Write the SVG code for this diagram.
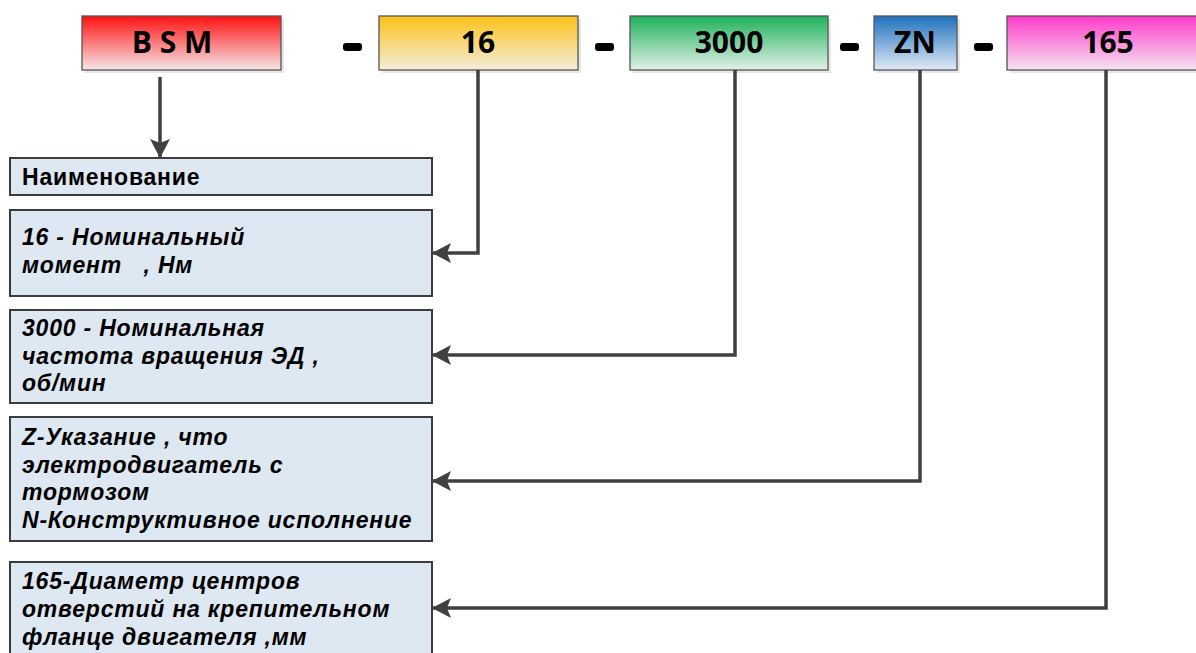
<svg xmlns="http://www.w3.org/2000/svg" width="1196" height="653" viewBox="0 0 1196 653">
<defs>
<linearGradient id="gRed" x1="0" y1="0" x2="0" y2="1"><stop offset="0" stop-color="#ff1010"/><stop offset="1" stop-color="#f5e8ea"/></linearGradient>
<linearGradient id="gYel" x1="0" y1="0" x2="0" y2="1"><stop offset="0" stop-color="#fcc218"/><stop offset="1" stop-color="#f3eddc"/></linearGradient>
<linearGradient id="gGrn" x1="0" y1="0" x2="0" y2="1"><stop offset="0" stop-color="#1cb15a"/><stop offset="1" stop-color="#e3f0e8"/></linearGradient>
<linearGradient id="gBlu" x1="0" y1="0" x2="0" y2="1"><stop offset="0" stop-color="#1d70bd"/><stop offset="1" stop-color="#e1eaf4"/></linearGradient>
<linearGradient id="gMag" x1="0" y1="0" x2="0" y2="1"><stop offset="0" stop-color="#ff3acb"/><stop offset="1" stop-color="#f4e4f0"/></linearGradient>
<marker id="arr" markerUnits="userSpaceOnUse" markerWidth="22" markerHeight="22" viewBox="0 0 22 22" refX="20" refY="11" orient="auto">
<path d="M20,11 L1,1 L5,11 L1,21 Z" fill="#404040"/>
</marker>
</defs>
<style>
.top{stroke:#555;stroke-width:1.3}
.shadow{fill:#e6e6e6}
.tt{font-family:"Open Sans","Liberation Sans",sans-serif;font-weight:bold;font-size:30px;fill:#000;text-anchor:middle}
.box{fill:#dee8f2;stroke:#3c3c3c;stroke-width:2}
.lt{font-family:"Liberation Sans",Arial,sans-serif;font-weight:bold;font-size:23px;letter-spacing:0.8px;fill:#000}
.it{font-style:italic}
.dash{fill:#000}
.con{fill:none;stroke:#404040;stroke-width:3.5;marker-end:url(#arr)}
</style>
<rect width="1196" height="653" fill="#fff"/>

<g id="node-bsm">
<rect class="shadow" x="85" y="19" width="199" height="54"/>
<rect class="top" x="82" y="16" width="199" height="54" fill="url(#gRed)"/>
<text class="tt" x="172" y="53">B S M</text>
</g>
<rect class="dash" x="343" y="43" width="19" height="8" rx="3"/>
<g id="node-16">
<rect class="shadow" x="382" y="19" width="199" height="54"/>
<rect class="top" x="379" y="16" width="199" height="54" fill="url(#gYel)"/>
<text class="tt" x="478" y="53">16</text>
</g>
<rect class="dash" x="595" y="43" width="19" height="8" rx="3"/>
<g id="node-3000">
<rect class="shadow" x="633" y="19" width="198" height="54"/>
<rect class="top" x="630" y="16" width="198" height="54" fill="url(#gGrn)"/>
<text class="tt" x="729" y="53">3000</text>
</g>
<rect class="dash" x="840" y="43" width="19" height="8" rx="3"/>
<g id="node-zn">
<rect class="shadow" x="877" y="19" width="83" height="54"/>
<rect class="top" x="874" y="16" width="83" height="54" fill="url(#gBlu)"/>
<text class="tt" x="915" y="53">ZN</text>
</g>
<rect class="dash" x="974" y="43" width="19" height="8" rx="3"/>
<g id="node-165">
<rect class="shadow" x="1010" y="19" width="200" height="54"/>
<rect class="top" x="1007" y="16" width="200" height="54" fill="url(#gMag)"/>
<text class="tt" x="1108" y="53">165</text>
</g>

<g id="desc-name">
<rect class="box" x="10" y="158" width="422" height="37"/>
<text class="lt" x="22" y="185">Наименование</text>
</g>
<g id="desc-16">
<rect class="box" x="10" y="210" width="422" height="86"/>
<text class="lt it" x="22" y="245">16 - Номинальный</text>
<text class="lt it" x="22" y="273" xml:space="preserve">момент   , Нм</text>
</g>
<g id="desc-3000">
<rect class="box" x="10" y="310" width="422" height="93"/>
<text class="lt it" x="22" y="336">3000 - Номинальная</text>
<text class="lt it" x="22" y="364">частота вращения ЭД ,</text>
<text class="lt it" x="22" y="391">об/мин</text>
</g>
<g id="desc-zn">
<rect class="box" x="10" y="417" width="422" height="124"/>
<text class="lt it" x="22" y="445">Z-Указание , что</text>
<text class="lt it" x="22" y="473">электродвигатель с</text>
<text class="lt it" x="22" y="500">тормозом</text>
<text class="lt it" x="22" y="528">N-Конструктивное исполнение</text>
</g>
<g id="desc-165">
<rect class="box" x="10" y="562" width="422" height="100"/>
<text class="lt it" x="22" y="589">165-Диаметр центров</text>
<text class="lt it" x="22" y="617">отверстий на крепительном</text>
<text class="lt it" x="22" y="645">фланце двигателя ,мм</text>
</g>

<g id="connectors">
<path class="con" d="M160,77 L160,158"/>
<path class="con" d="M478,70 L478,253 L432,253"/>
<path class="con" d="M735,70 L735,355 L432,355"/>
<path class="con" d="M920,70 L920,481 L432,481"/>
<path class="con" d="M1106,70 L1106,608 L432,608"/>
</g>
</svg>
